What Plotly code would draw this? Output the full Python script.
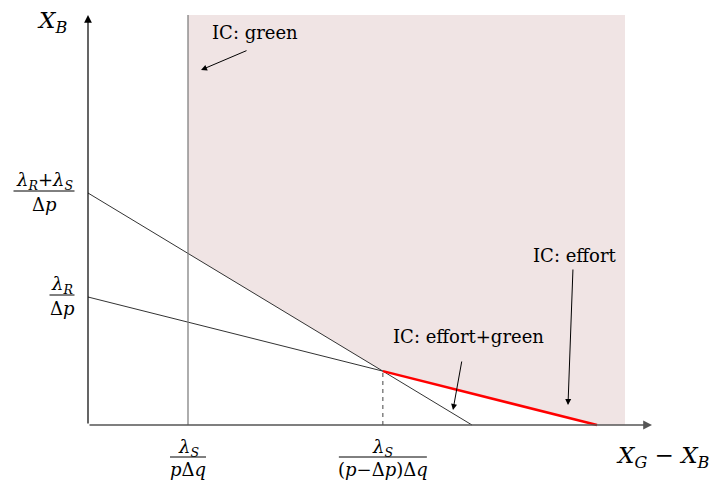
import plotly.graph_objects as go

# ---- data (diagram units) ----
steep_y_int = 2.32      # (λR+λS)/Δp
steep_x_int = 3.84
shallow_y_int = 1.28    # λR/Δp
shallow_x_int = 5.09
green_x = 1.00          # λS/(pΔq)
shade_right = 5.37
axis_top = 4.10
axis_right = 5.64

x_tick_num = ["<i>λ</i><sub><i>S</i></sub>", "<i>λ</i><sub><i>S</i></sub>"]
x_tick_den = ["<i>p</i>Δ<i>q</i>", "(<i>p</i>−Δ<i>p</i>)Δ<i>q</i>"]
x_tick_w = [0.36, 0.88]
y_tick_num = ["<i>λ</i><sub><i>R</i></sub>+<i>λ</i><sub><i>S</i></sub>", "<i>λ</i><sub><i>R</i></sub>"]
y_tick_den = ["Δ<i>p</i>", "Δ<i>p</i>"]

FONT = "DejaVu Serif"

def steep(x):
    return steep_y_int * (1 - x / steep_x_int)

def shallow(x):
    return shallow_y_int * (1 - x / shallow_x_int)

s1 = steep_y_int / steep_x_int
s2 = shallow_y_int / shallow_x_int
xi = (steep_y_int - shallow_y_int) / (s1 - s2)
yi = steep(xi)

fig = go.Figure()

# shaded region
fig.add_trace(go.Scatter(
    x=[green_x, xi, shallow_x_int, shade_right, shade_right, green_x, green_x],
    y=[steep(green_x), yi, 0, 0, axis_top, axis_top, steep(green_x)],
    fill="toself", fillcolor="rgb(240,228,228)", line=dict(width=0),
    mode="lines", hoverinfo="skip", showlegend=False))

fig.add_trace(go.Scatter(x=[0, steep_x_int], y=[steep_y_int, 0], mode="lines",
                         line=dict(color="#333", width=1), showlegend=False))
fig.add_trace(go.Scatter(x=[0, xi], y=[shallow_y_int, yi], mode="lines",
                         line=dict(color="#333", width=1), showlegend=False))
fig.add_trace(go.Scatter(x=[xi, shallow_x_int], y=[yi, 0], mode="lines",
                         line=dict(color="red", width=2.5), showlegend=False))
fig.add_trace(go.Scatter(x=[green_x, green_x], y=[0, axis_top], mode="lines",
                         line=dict(color="#777", width=1.2), showlegend=False))
fig.add_trace(go.Scatter(x=[xi, xi], y=[0, yi], mode="lines",
                         line=dict(color="#444", width=1, dash="4px,4px"), showlegend=False))

ann = []
def arrow(x, y, ax, ay, color="black", width=1, head=2, size=1.2):
    ann.append(dict(x=x, y=y, ax=ax, ay=ay, xref="x", yref="y", axref="x", ayref="y",
                    text="", showarrow=True, arrowhead=head, arrowsize=size,
                    arrowwidth=width, arrowcolor=color))

arrow(0, axis_top, 0, 0, color="black", width=1.2, size=1.3)
arrow(axis_right, 0, 0, 0, color="#555", width=1.6, size=1.1)

def text(x, y, t, size=18):
    ann.append(dict(x=x, y=y, xref="x", yref="y", text=t, showarrow=False,
                    font=dict(family=FONT, size=size, color="black")))

text(-0.36, 4.03, "<i>X</i><sub><i>B</i></sub>", 23)
text(5.75, -0.32, "<i>X</i><sub><i>G</i></sub> − <i>X</i><sub><i>B</i></sub>", 23)

text(1.67, 3.93, "IC: green")
arrow(1.13, 3.55, 1.60, 3.75)
text(4.87, 1.70, "IC: effort")
arrow(4.80, 0.20, 4.85, 1.57)
text(3.80, 0.89, "IC: effort+green")
arrow(3.65, 0.15, 3.74, 0.65)

shapes = []
x_tick_pos = [green_x, xi]
for xp, n, d, w in zip(x_tick_pos, x_tick_num, x_tick_den, x_tick_w):
    text(xp, -0.23, n, 18)
    shapes.append(dict(type="line", xref="x", yref="y", x0=xp - w / 2, x1=xp + w / 2,
                       y0=-0.32, y1=-0.32, line=dict(color="black", width=1)))
    text(xp, -0.44, d, 18)

y_tick_pos = [steep_y_int, shallow_y_int]
y_tick_cx = [-0.44, -0.26]
y_tick_w = [0.61, 0.25]
for yp, cx, n, d, w in zip(y_tick_pos, y_tick_cx, y_tick_num, y_tick_den, y_tick_w):
    text(cx, yp + 0.12, n, 18)
    shapes.append(dict(type="line", xref="x", yref="y", x0=cx - w / 2, x1=cx + w / 2,
                       y0=yp + 0.02, y1=yp + 0.02, line=dict(color="black", width=1)))
    text(cx, yp - 0.11, d, 18)

# page has an 8px body margin: size and ranges compensate for it
fig.update_layout(
    width=711, height=477, margin=dict(l=0, r=0, t=0, b=0),
    plot_bgcolor="white", paper_bgcolor="white",
    xaxis=dict(range=[-0.80, 6.31], visible=False, fixedrange=True),
    yaxis=dict(range=[-0.60, 4.17], visible=False, fixedrange=True),
    annotations=ann, shapes=shapes, showlegend=False,
)
fig.write_html("out.html")
